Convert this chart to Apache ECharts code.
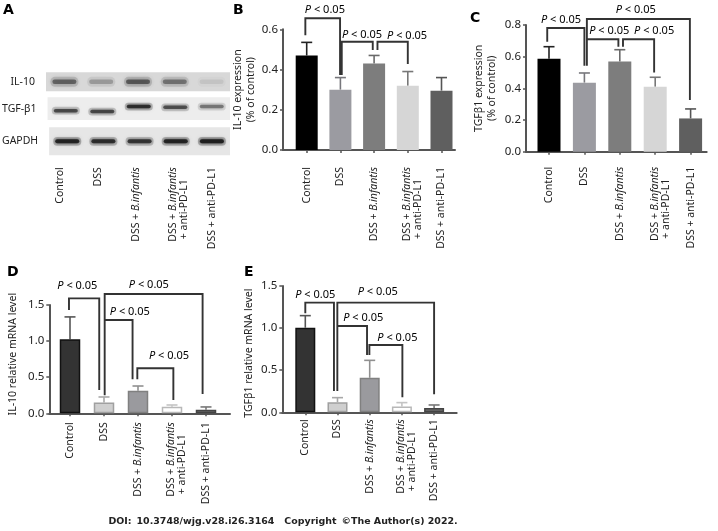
<!DOCTYPE html>
<html><head><meta charset="utf-8">
<style>html,body{margin:0;padding:0;background:#fff}#c{width:718px;height:531px}</style>
<script src="https://cdn.jsdelivr.net/npm/echarts@6/dist/echarts.min.js"></script></head>
<body><div id="c"></div>
<script>
const FONT='"Noto Sans"';
const FS=10.5;
const groups=['Control','DSS','DSS + B.infantis','DSS + B.infantis + anti-PD-L1','DSS + anti-PD-L1'];

// Panel A: band darkness read from the blot
const il10Bands=[0.5,0.25,0.55,0.42,0.08];
const tgfBands=[0.62,0.64,0.78,0.6,0.42];
const gapdhBands=[0.85,0.78,0.72,0.85,0.9];
const tgfBandLevel=[0.41,0.37,0.59,0.56,0.59];

// Panel B
const bValues=[0.47,0.30,0.43,0.32,0.295];
const bErrTops=[0.535,0.36,0.47,0.39,0.36];
const bBrackets=[
 [[-0.04,0.57],[-0.04,0.655],[0.99,0.655],[0.99,0.373]],
 [[1.04,0.373],[1.04,0.538],[1.96,0.538],[1.96,0.497]],
 [[2.1,0.497],[2.1,0.538],[3,0.538],[3,0.427]]];
const bPLabels=[[0.54,0.696],[1.64,0.57],[2.98,0.567]];
// Panel C
const cValues=[0.587,0.436,0.57,0.41,0.21];
const cErrTops=[0.663,0.497,0.644,0.47,0.27];
const cBrackets=[
 [[-0.05,0.695],[-0.05,0.781],[1,0.781],[1,0.543]],
 [[1.07,0.543],[1.07,0.838],[3.98,0.838],[3.98,0.327]],
 [[1.07,0.71],[1.96,0.71],[1.96,0.663]],
 [[2.09,0.663],[2.09,0.71],[2.97,0.71],[2.97,0.5]]];
const cPLabels=[[2.45,0.895],[0.34,0.832],[1.7,0.764],[2.97,0.764]];
// Panel D
const dValues=[1.025,0.15,0.314,0.09,0.05];
const dErrTops=[1.335,0.226,0.378,0.115,0.088];
const dBrackets=[
 [[-0.03,1.43],[-0.03,1.592],[0.86,1.592],[0.86,0.323]],
 [[1.02,0.25],[1.02,1.652],[3.9,1.652],[3.9,0.268]],
 [[1.02,1.292],[1.84,1.292],[1.84,0.47]],
 [[1.98,0.47],[1.98,0.623],[3.04,0.623],[3.04,0.185]]];
const dPLabels=[[0.216,1.763],[2.32,1.777],[1.76,1.407],[2.91,0.789]];
// Panel E
const eValues=[1.005,0.12,0.41,0.07,0.05];
const eErrTops=[1.148,0.174,0.617,0.115,0.087];
const eBrackets=[
 [[0,1.175],[0,1.302],[0.89,1.302],[0.89,0.253]],
 [[0.995,0.253],[0.995,1.302],[4,1.302],[4,0.214]],
 [[0.995,1.025],[1.917,1.025],[1.917,0.68]],
 [[1.99,0.68],[1.99,0.8],[3.015,0.8],[3.015,0.178]]];
const ePLabels=[[0.31,1.389],[2.25,1.436],[1.8,1.116],[2.86,0.886]];

const greysTop=[
 {fill:'#000000',line:'#000000',err:'#222222'},
 {fill:'#9b9ba1',line:'#9b9ba1',err:'#77777c'},
 {fill:'#7d7d7d',line:'#7d7d7d',err:'#6a6a6a'},
 {fill:'#d6d6d6',line:'#d6d6d6',err:'#777777'},
 {fill:'#5f5f5f',line:'#5f5f5f',err:'#555555'}];
const greysBottom=[
 {fill:'#333333',line:'#111111',err:'#555555'},
 {fill:'#cfcfcf',line:'#a0a0a0',err:'#a8a8a8'},
 {fill:'#9a9a9e',line:'#808080',err:'#909090'},
 {fill:'#ffffff',line:'#b8b8b8',err:'#c4c4c4'},
 {fill:'#6c6c6c',line:'#444444',err:'#777777'}];

const labelRich={
 n:{fontFamily:FONT,fontSize:FS,color:'#222'},
 i:{fontFamily:FONT,fontSize:FS,color:'#222',fontStyle:'italic'},
 c:{fontFamily:FONT,fontSize:FS,color:'#222',width:84,align:'center'},
 s:{fontSize:1,height:10,width:1}
};
function catText(name,spacer){
 const two=name.indexOf('+ anti-PD-L1')>0&&name.indexOf('B.infantis')>0;
 const lead=name.indexOf('B.infantis')>0?'{n|DSS + }{i|B.infantis}':'{n|'+name+'}';
 if(two) return (spacer?'{s|}\n':'')+lead+'\n{c|+ anti-PD-L1}';
 return lead;
}
const pRich={i:{fontStyle:'italic',fontFamily:FONT,fontSize:11,color:'#222'},
 n:{fontFamily:FONT,fontSize:11,color:'#222'}};

const grid=[],xAxis=[],yAxis=[],series=[];
function addPanel(p){
 const gi=grid.length;
 const xMin=(p.left-p.c0)/p.step, xMax=(p.right-p.c0)/p.step;
 grid.push({left:p.left,top:p.top,width:p.right-p.left,height:p.bottom-p.top});
 xAxis.push({type:'value',gridIndex:gi,min:xMin,max:xMax,splitLine:{show:false},
  axisLine:{show:true,onZero:false,lineStyle:{color:'#555',width:2}},
  axisTick:{show:true,length:3,customValues:[0,1,2,3,4],lineStyle:{color:'#555',width:1.5}},
  axisLabel:{show:true,customValues:[0,1,2,3,4],rotate:90,margin:p.margin,rich:labelRich,
   hideOverlap:false,showMinLabel:true,showMaxLabel:true,
   formatter:v=>catText(groups[Math.round(v)],true)}});
 yAxis.push({type:'value',gridIndex:gi,min:0,max:p.max,interval:p.interval,splitLine:{show:false},
  name:p.title,nameLocation:'middle',nameRotate:90,nameGap:p.nameGap,
  nameTextStyle:{fontFamily:FONT,fontSize:FS,color:'#222',lineHeight:13,padding:p.namePad||0},
  axisLine:{show:true,onZero:false,lineStyle:{color:'#555',width:2}},
  axisTick:{show:true,length:3,lineStyle:{color:'#555',width:1.5}},
  axisLabel:{margin:5,fontFamily:FONT,fontSize:11.5,color:'#222',formatter:v=>v.toFixed(1)}});
 const cols=p.cols;
 series.push({type:'bar',xAxisIndex:gi,yAxisIndex:gi,barWidth:p.barW,silent:true,z:3,
  data:p.values.map((v,i)=>({value:[i,v],itemStyle:{color:cols[i].fill,borderColor:cols[i].line,borderWidth:p.border}}))});
 series.push({type:'custom',xAxisIndex:gi,yAxisIndex:gi,silent:true,z:2,clip:false,
  data:p.values.map((v,i)=>[i,v,p.errs[i]]),
  encode:{x:0,y:[1,2]},
  renderItem:(params,api)=>{
   const i=api.value(0);
   const a=api.coord([i,api.value(1)]),b=api.coord([i,api.value(2)]);
   const st={stroke:cols[i].err,lineWidth:1.6,fill:null};
   return {type:'group',children:[
    {type:'line',shape:{x1:a[0],y1:a[1],x2:b[0],y2:b[1]},style:st},
    {type:'line',shape:{x1:b[0]-5.5,y1:b[1],x2:b[0]+5.5,y2:b[1]},style:st}]};
  }});
 series.push({type:'custom',xAxisIndex:gi,yAxisIndex:gi,silent:true,z:5,clip:false,
  data:p.brackets.map((b,i)=>[i]),encode:{x:[],y:[]},
  renderItem:(params,api)=>({type:'polyline',
   shape:{points:p.brackets[params.dataIndex].map(pt=>api.coord(pt))},
   style:{stroke:'#333',lineWidth:1.9,fill:null}})});
 series.push({type:'custom',xAxisIndex:gi,yAxisIndex:gi,silent:true,z:6,clip:false,
  data:p.labels.map((b,i)=>[i]),encode:{x:[],y:[]},
  renderItem:(params,api)=>{
   const c=api.coord(p.labels[params.dataIndex]);
   return {type:'text',style:{x:c[0],y:c[1],text:'{i|P}{n| < 0.05}',rich:pRich,align:'center',verticalAlign:'middle',textAlign:'center',textVerticalAlign:'middle'}};
  }});
}
function addBlot(b){
 const gi=grid.length;
 grid.push({left:46,top:b.top,width:184,height:b.h,show:true,backgroundColor:b.bg,borderWidth:0});
 xAxis.push({type:'category',gridIndex:gi,data:groups,axisLine:{show:false},axisTick:{show:false},axisLabel:{show:false}});
 yAxis.push({type:'value',gridIndex:gi,min:0,max:1,axisLine:{show:false},axisTick:{show:false},axisLabel:{show:false},splitLine:{show:false},
  name:b.name,nameLocation:'middle',nameRotate:0,nameGap:11,
  nameTextStyle:{fontFamily:FONT,fontSize:FS,color:'#222',align:'right'}});
 series.push({type:'custom',xAxisIndex:gi,yAxisIndex:gi,silent:true,clip:false,
  data:b.dark.map((d,i)=>[i,b.level?b.level[i]:0.5,d]),encode:{x:0,y:1},
  renderItem:(params,api)=>{
   const c=api.coord([api.value(0),api.value(1)]);
   const d=api.value(2),col='rgba(25,25,25,'+d+')';
   const w=28,h=b.th;
   return {type:'group',children:[
    {type:'rect',shape:{x:c[0]-w/2,y:c[1]-h*1.1,width:w,height:h*2.2,r:h},
     style:{fill:'rgba(25,25,25,'+(d*0.28)+')',shadowBlur:b.blur+2,shadowColor:'rgba(25,25,25,'+(d*0.28)+')'}},
    {type:'rect',shape:{x:c[0]-w/2+2,y:c[1]-h/2,width:w-4,height:h,r:h/2},
     style:{fill:col,shadowBlur:b.blur,shadowColor:col}}]};
  }});
}
addBlot({top:72.3,h:19,bg:'#d8d8d8',dark:il10Bands,name:'IL-10',th:4.5,blur:5});
addBlot({top:97.3,h:22.7,bg:'#ededed',dark:tgfBands,level:tgfBandLevel,name:'TGF-β1',th:3.5,blur:3});
addBlot({top:127.3,h:28,bg:'#e6e6e6',dark:gapdhBands,name:'GAPDH',th:4,blur:3});
// label strip under the blot: the reference's lane captions sit slightly left of the lanes
(function(){
 const gi=grid.length;
 grid.push({left:41,top:155.3,width:189.5,height:1});
 xAxis.push({type:'category',gridIndex:gi,data:groups,axisLine:{show:false},axisTick:{show:false},
  axisLabel:{show:true,rotate:90,interval:0,margin:11,rich:labelRich,formatter:v=>catText(v,true)}});
 yAxis.push({type:'value',gridIndex:gi,show:false,min:0,max:1});
})();

addPanel({left:283,right:455,top:29.3,bottom:150,c0:306.7,step:33.7,max:0.6,interval:0.2,barW:22,border:0,margin:17,
 values:bValues,errs:bErrTops,brackets:bBrackets,labels:bPLabels,cols:greysTop,title:'IL-10 expression\n(% of control)',nameGap:20});
addPanel({left:526,right:706.7,top:25,bottom:151.7,c0:549,step:35.4,max:0.8,interval:0.2,barW:23,border:0,margin:15,
 values:cValues,errs:cErrTops,brackets:cBrackets,labels:cPLabels,cols:greysTop,title:'TGFβ1 expression\n(% of control)',nameGap:27});
addPanel({left:49.3,right:230,top:305,bottom:413.3,c0:70,step:34,max:1.5,interval:0.5,barW:20.5,border:1.5,margin:9,
 values:dValues,errs:dErrTops,brackets:dBrackets,labels:dPLabels,cols:greysBottom,title:'IL-10 relative mRNA level',nameGap:30,namePad:[0,0,0,10]});
addPanel({left:282.3,right:456.7,top:286,bottom:412.3,c0:305.3,step:32.2,max:1.5,interval:0.5,barW:20,border:1.5,margin:7,
 values:eValues,errs:eErrTops,brackets:eBrackets,labels:ePLabels,cols:greysBottom,title:'TGFβ1 relative mRNA level',nameGap:27,namePad:[0,8,0,0]});

const letters=[['A',3,3],['B',233,3],['C',470,11],['D',7,265],['E',244,265]];
const chart=echarts.init(document.getElementById('c'),null,{renderer:'canvas'});
chart.setOption({animation:false,backgroundColor:'#fff',
 title:letters.map(l=>({text:l[0],left:l[1],top:l[2],padding:0,textStyle:{fontFamily:'"DejaVu Sans"',fontWeight:'bold',fontSize:14,color:'#000'}}))
  .concat([{text:'{b|DOI:} {r|10.3748/wjg.v28.i26.3164}  {b|Copyright} {r|©The Author(s) 2022.}',left:283,top:522,textAlign:'center',textVerticalAlign:'middle',padding:0,
   textStyle:{rich:{b:{fontFamily:'"DejaVu Sans"',fontWeight:'bold',fontSize:9.45,color:'#222'},r:{fontFamily:'"DejaVu Sans"',fontSize:9.45,color:'#222'}}}}]),
 grid,xAxis,yAxis,series});
</script></body></html>
